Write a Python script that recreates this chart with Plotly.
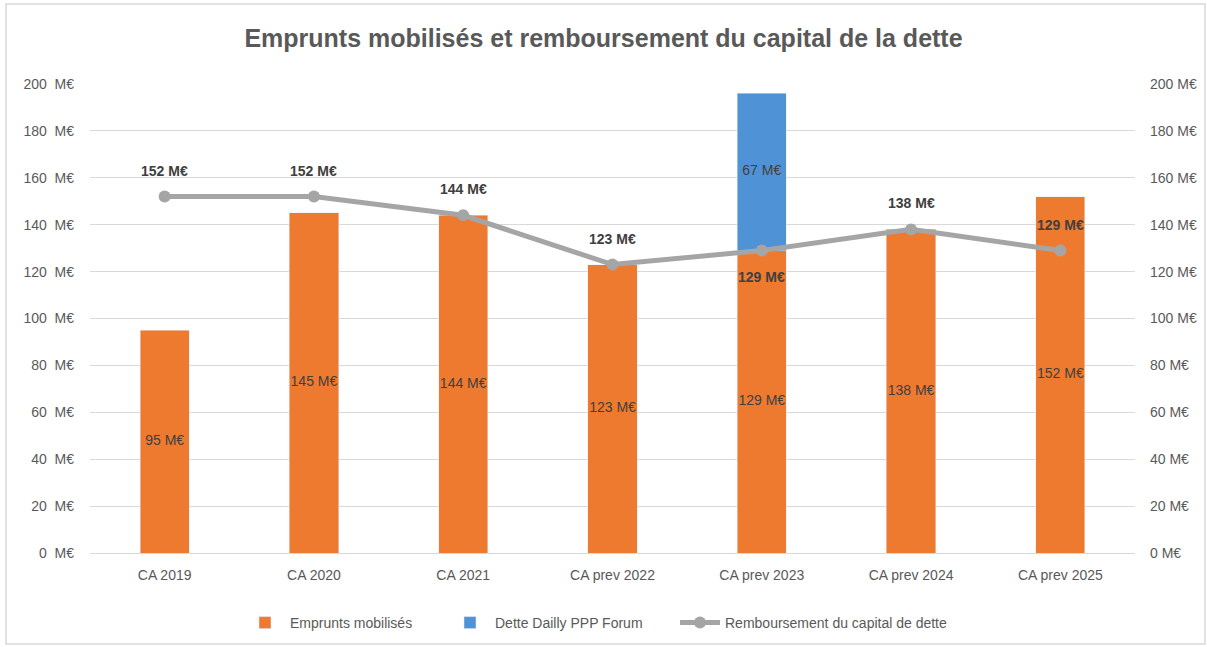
import plotly.graph_objects as go

categories = ["CA 2019", "CA 2020", "CA 2021", "CA prev 2022", "CA prev 2023", "CA prev 2024", "CA prev 2025"]
emprunts = [95, 145, 144, 123, 129, 138, 152]
dette_ppp = [None, None, None, None, 67, None, None]
remboursement = [152, 152, 144, 123, 129, 138, 129]
tick_vals = [0, 20, 40, 60, 80, 100, 120, 140, 160, 180, 200]
tick_left = [f"{v}\u00a0\u00a0M€" for v in tick_vals]
tick_right = [f"{v} M€" for v in tick_vals]
line_text_pos = ["top center", "top center", "top center", "top center", "bottom center", "top center", "top center"]

FONT = "Liberation Sans"
GREY_TXT = "#595959"
DARK_TXT = "#404040"

fig = go.Figure()
fig.add_trace(go.Bar(
    x=categories, y=emprunts, name="Emprunts mobilisés",
    marker=dict(color="#EE7A30"), width=0.33, legend="legend",
))
fig.add_trace(go.Bar(
    x=categories, y=dette_ppp, name="Dette Dailly PPP Forum",
    marker=dict(color="#4F92D6"), width=0.33, legend="legend2",
))
fig.add_trace(go.Scatter(
    x=categories, y=remboursement, name="Remboursement du capital de dette",
    mode="lines+markers", yaxis="y2", legend="legend3",
    line=dict(color="#A5A5A5", width=5),
    marker=dict(color="#A5A5A5", size=12),
))

# bar value labels (centered in each segment)
fig.add_trace(go.Scatter(
    x=categories, y=[v / 2 for v in emprunts], mode="text", showlegend=False,
    text=[f"{v} M€" for v in emprunts], hoverinfo="skip",
    textfont=dict(color=DARK_TXT, size=14, family=FONT),
))
ppp_x = [c for c, d in zip(categories, dette_ppp) if d]
ppp_y = [e + d / 2 for e, d in zip(emprunts, dette_ppp) if d]
ppp_t = [f"{d} M€" for d in dette_ppp if d]
fig.add_trace(go.Scatter(
    x=ppp_x, y=ppp_y, mode="text", showlegend=False, text=ppp_t, hoverinfo="skip",
    textfont=dict(color=DARK_TXT, size=14, family=FONT),
))
# line value labels
for c, v, p in zip(categories, remboursement, line_text_pos):
    fig.add_annotation(x=c, y=v, yref="y2", text=f"<b>{v} M€</b>", showarrow=False,
                       yshift=26 if p.startswith("top") else -26,
                       font=dict(color=DARK_TXT, size=14, family=FONT))

L, R, T, B = 90, 72, 84, 94
W, H = 1207, 647
pw, ph = W - L - R, H - T - B

def px_x(x):
    return (x - L) / pw

def px_y(y):
    return (H - B - y) / ph

def leg(xpix):
    return dict(orientation="h", x=px_x(xpix), xanchor="left", y=px_y(623), yanchor="middle",
                font=dict(size=14, color=GREY_TXT), itemwidth=40, bgcolor="rgba(0,0,0,0)")

fig.update_layout(
    width=W, height=H,
    margin=dict(l=L, r=R, t=T, b=B, autoexpand=False),
    paper_bgcolor="white", plot_bgcolor="white",
    barmode="stack",
    title=dict(text="<b>Emprunts mobilisés et remboursement du capital de la dette</b>",
               x=0.5, xanchor="center", y=1 - 38 / H, yanchor="middle",
               font=dict(size=25, color=GREY_TXT, family=FONT)),
    font=dict(family=FONT, color=GREY_TXT, size=13),
    xaxis=dict(showgrid=False, showline=True, linecolor="#D9D9D9", linewidth=1,
               ticks="", ticklabelstandoff=9, tickfont=dict(size=14, color=GREY_TXT)),
    yaxis=dict(range=[0, 200], tickvals=tick_vals, ticktext=tick_left,
               showgrid=True, gridcolor="#D9D9D9", gridwidth=1, zeroline=False,
               showline=False, ticks="", ticklen=0, ticklabelstandoff=15,
               tickfont=dict(size=14, color=GREY_TXT)),
    yaxis2=dict(range=[0, 200], tickvals=tick_vals, ticktext=tick_right,
                overlaying="y", side="right", showgrid=False, zeroline=False,
                showline=False, ticklabelstandoff=14, tickfont=dict(size=14, color=GREY_TXT)),
    legend=leg(240),
    legend2=leg(445),
    legend3=leg(675),
    showlegend=True,
    shapes=[dict(type="rect", xref="paper", yref="paper",
                 x0=px_x(6), x1=px_x(1205), y0=px_y(644), y1=px_y(4),
                 line=dict(color="#D9D9D9", width=1.5), fillcolor="rgba(0,0,0,0)", layer="below")],
)

fig.write_html("out.html", config={"displayModeBar": False},
               post_script="document.body.style.margin='0';")
